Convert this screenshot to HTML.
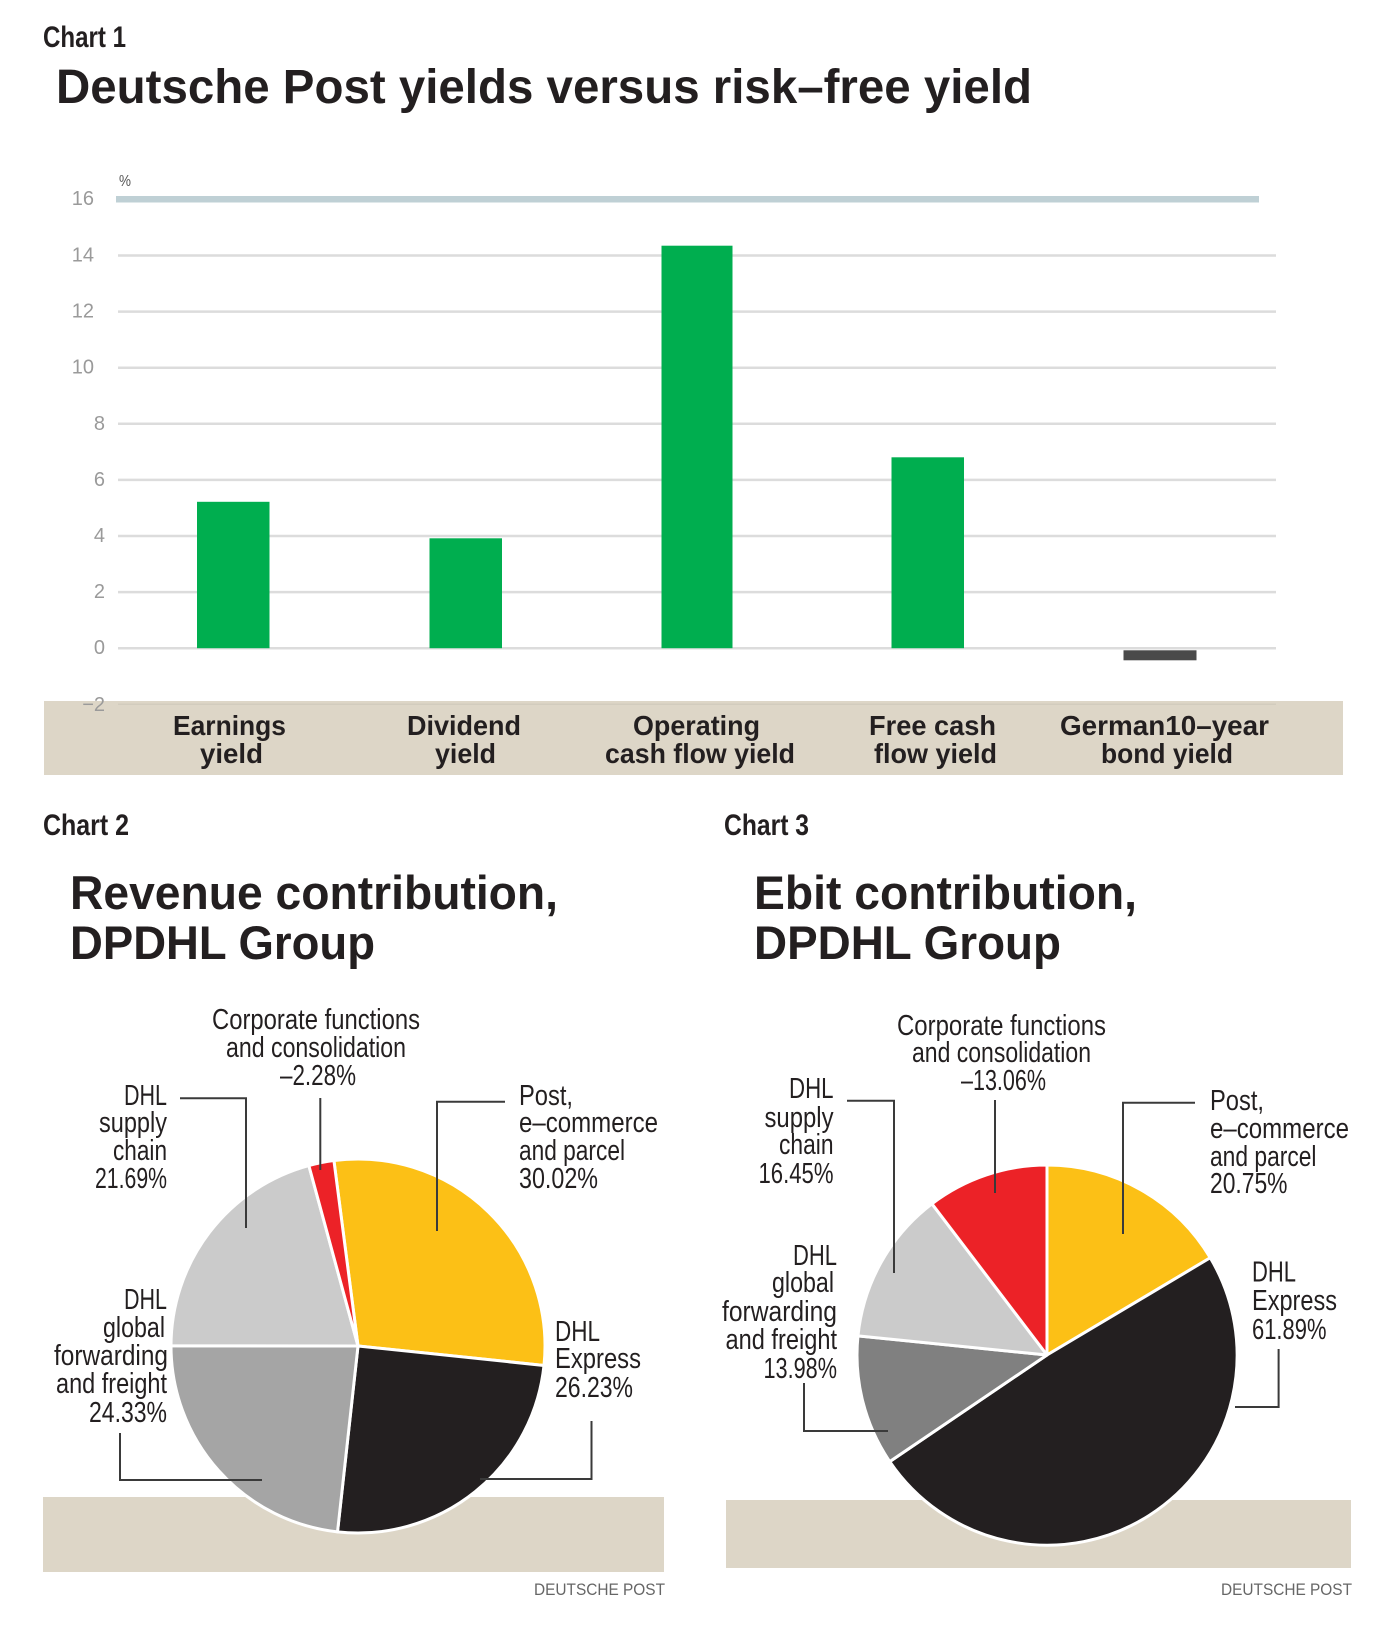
<!DOCTYPE html>
<html>
<head>
<meta charset="utf-8">
<style>
  html,body{margin:0;padding:0;background:#fff;}
  svg{display:block;}
  text{font-family:"Liberation Sans",sans-serif;}
  .t{font-weight:bold;fill:#231f20;}
  .lab{font-size:29px;fill:#231f20;}
  .cat{font-size:28px;font-weight:bold;fill:#231f20;}
  .tick{font-size:20px;fill:#9a9a9a;}
  .ld{stroke:#3a3a3a;stroke-width:2;fill:none;}
</style>
</head>
<body>
<svg width="1384" height="1632" viewBox="0 0 1384 1632" xmlns="http://www.w3.org/2000/svg">
  <rect x="0" y="0" width="1384" height="1632" fill="#ffffff"/>

  <!-- ===== CHART 1 ===== -->
  <text class="t" x="43" y="47" font-size="30" textLength="83" lengthAdjust="spacingAndGlyphs">Chart 1</text>
  <text class="t" x="56" y="103" font-size="48" textLength="976" lengthAdjust="spacingAndGlyphs">Deutsche Post yields versus risk–free yield</text>

  <!-- beige label band -->
  <rect x="44" y="701" width="1299" height="74" fill="#ddd6c7"/>

  <!-- gridlines -->
  <g stroke="#dcdcdc" stroke-width="2.5">
    <line x1="118" y1="255.5" x2="1276" y2="255.5"/>
    <line x1="118" y1="311.6" x2="1276" y2="311.6"/>
    <line x1="118" y1="367.7" x2="1276" y2="367.7"/>
    <line x1="118" y1="423.8" x2="1276" y2="423.8"/>
    <line x1="118" y1="479.9" x2="1276" y2="479.9"/>
    <line x1="118" y1="536" x2="1276" y2="536"/>
    <line x1="118" y1="592.1" x2="1276" y2="592.1"/>
    <line x1="118" y1="648.2" x2="1276" y2="648.2"/>
    <line x1="118" y1="704.3" x2="1276" y2="704.3" stroke="#d2ccbe" stroke-width="1.5"/>
  </g>
  <rect x="116" y="196" width="1143" height="6.5" fill="#bfd0d5"/>

  <!-- tick labels -->
  <text class="tick" x="94" y="205" text-anchor="end">16</text>
  <text class="tick" x="94" y="261.5" text-anchor="end">14</text>
  <text class="tick" x="94" y="317.6" text-anchor="end">12</text>
  <text class="tick" x="94" y="373.7" text-anchor="end">10</text>
  <text class="tick" x="105" y="429.8" text-anchor="end">8</text>
  <text class="tick" x="105" y="485.9" text-anchor="end">6</text>
  <text class="tick" x="105" y="542" text-anchor="end">4</text>
  <text class="tick" x="105" y="598.1" text-anchor="end">2</text>
  <text class="tick" x="105" y="654.2" text-anchor="end">0</text>
  <text class="tick" x="105" y="711" text-anchor="end">−2</text>
  <text x="119" y="186" font-size="16" fill="#555" textLength="12" lengthAdjust="spacingAndGlyphs">%</text>

  <!-- bars -->
  <rect x="197" y="501.8" width="72.5" height="146.4" fill="#00ae4f"/>
  <rect x="429.5" y="538.3" width="72.5" height="109.9" fill="#00ae4f"/>
  <rect x="661.5" y="245.7" width="71" height="402.5" fill="#00ae4f"/>
  <rect x="891.5" y="457.3" width="72.5" height="190.9" fill="#00ae4f"/>
  <rect x="1123.5" y="650.3" width="73" height="10" fill="#4a4a4a"/>

  <!-- category labels -->
  <text class="cat" x="173" y="735" textLength="113" lengthAdjust="spacingAndGlyphs">Earnings</text>
  <text class="cat" x="200" y="763" textLength="63" lengthAdjust="spacingAndGlyphs">yield</text>
  <text class="cat" x="407" y="735" textLength="114" lengthAdjust="spacingAndGlyphs">Dividend</text>
  <text class="cat" x="435" y="763" textLength="61" lengthAdjust="spacingAndGlyphs">yield</text>
  <text class="cat" x="633" y="735" textLength="127" lengthAdjust="spacingAndGlyphs">Operating</text>
  <text class="cat" x="605" y="763" textLength="190" lengthAdjust="spacingAndGlyphs">cash flow yield</text>
  <text class="cat" x="869" y="735" textLength="127" lengthAdjust="spacingAndGlyphs">Free cash</text>
  <text class="cat" x="874" y="763" textLength="123" lengthAdjust="spacingAndGlyphs">flow yield</text>
  <text class="cat" x="1060" y="735" textLength="209" lengthAdjust="spacingAndGlyphs">German10–year</text>
  <text class="cat" x="1101" y="763" textLength="132" lengthAdjust="spacingAndGlyphs">bond yield</text>

  <!-- ===== CHART 2 ===== -->
  <text class="t" x="43" y="835" font-size="30" textLength="86" lengthAdjust="spacingAndGlyphs">Chart 2</text>
  <text class="t" x="70" y="909" font-size="47" textLength="488" lengthAdjust="spacingAndGlyphs">Revenue contribution,</text>
  <text class="t" x="70" y="959" font-size="47" textLength="305" lengthAdjust="spacingAndGlyphs">DPDHL Group</text>

  <rect x="43" y="1497" width="621" height="75" fill="#ddd6c7"/>

  <g stroke="#ffffff" stroke-width="3" stroke-linejoin="round">
    <path d="M358 1346 L333.92 1160.55 A187 187 0 0 1 543.99 1365.45 Z" fill="#fcc016"/>
    <path d="M358 1346 L543.99 1365.45 A187 187 0 0 1 337.51 1531.87 Z" fill="#231f20"/>
    <path d="M358 1346 L337.51 1531.87 A187 187 0 0 1 171.0 1345.77 Z" fill="#a5a5a5"/>
    <path d="M358 1346 L171.0 1345.77 A187 187 0 0 1 308.85 1165.58 Z" fill="#cbcbcb"/>
    <path d="M358 1346 L308.85 1165.58 A187 187 0 0 1 333.92 1160.55 Z" fill="#ec2227"/>
  </g>

  <!-- leaders chart 2 -->
  <polyline class="ld" points="180,1098.3 246,1098.3 246,1228"/>
  <polyline class="ld" points="320.3,1098 320.3,1170"/>
  <polyline class="ld" points="505,1101.7 437,1101.7 437,1231"/>
  <polyline class="ld" points="120,1433 120,1480 262,1480"/>
  <polyline class="ld" points="591.5,1421 591.5,1479 480,1479"/>

  <!-- labels chart 2 -->
  <text class="lab" x="212" y="1029" textLength="208" lengthAdjust="spacingAndGlyphs">Corporate functions</text>
  <text class="lab" x="226" y="1057" textLength="180" lengthAdjust="spacingAndGlyphs">and consolidation</text>
  <text class="lab" x="280" y="1085" textLength="76" lengthAdjust="spacingAndGlyphs">–2.28%</text>

  <text class="lab" x="124" y="1105" textLength="43" lengthAdjust="spacingAndGlyphs">DHL</text>
  <text class="lab" x="99" y="1132" textLength="68" lengthAdjust="spacingAndGlyphs">supply</text>
  <text class="lab" x="113" y="1160" textLength="54" lengthAdjust="spacingAndGlyphs">chain</text>
  <text class="lab" x="95" y="1188" textLength="72" lengthAdjust="spacingAndGlyphs">21.69%</text>

  <text class="lab" x="519" y="1105" textLength="54" lengthAdjust="spacingAndGlyphs">Post,</text>
  <text class="lab" x="519" y="1132" textLength="139" lengthAdjust="spacingAndGlyphs">e–commerce</text>
  <text class="lab" x="519" y="1160" textLength="106" lengthAdjust="spacingAndGlyphs">and parcel</text>
  <text class="lab" x="519" y="1188" textLength="79" lengthAdjust="spacingAndGlyphs">30.02%</text>

  <text class="lab" x="124" y="1309" textLength="43" lengthAdjust="spacingAndGlyphs">DHL</text>
  <text class="lab" x="103" y="1337" textLength="62" lengthAdjust="spacingAndGlyphs">global</text>
  <text class="lab" x="54" y="1365" textLength="114" lengthAdjust="spacingAndGlyphs">forwarding</text>
  <text class="lab" x="56" y="1393" textLength="111" lengthAdjust="spacingAndGlyphs">and freight</text>
  <text class="lab" x="89" y="1422" textLength="78" lengthAdjust="spacingAndGlyphs">24.33%</text>

  <text class="lab" x="555" y="1341" textLength="45" lengthAdjust="spacingAndGlyphs">DHL</text>
  <text class="lab" x="555" y="1368" textLength="86" lengthAdjust="spacingAndGlyphs">Express</text>
  <text class="lab" x="555" y="1397" textLength="78" lengthAdjust="spacingAndGlyphs">26.23%</text>

  <text x="534" y="1595" font-size="16.5" fill="#666" textLength="131" lengthAdjust="spacingAndGlyphs">DEUTSCHE POST</text>

  <!-- ===== CHART 3 ===== -->
  <text class="t" x="724" y="835" font-size="30" textLength="85" lengthAdjust="spacingAndGlyphs">Chart 3</text>
  <text class="t" x="754" y="909" font-size="47" textLength="383" lengthAdjust="spacingAndGlyphs">Ebit contribution,</text>
  <text class="t" x="754" y="959" font-size="47" textLength="307" lengthAdjust="spacingAndGlyphs">DPDHL Group</text>

  <rect x="726" y="1500" width="625" height="68" fill="#ddd6c7"/>

  <g stroke="#ffffff" stroke-width="3" stroke-linejoin="round">
    <path d="M1047 1355 L1047 1165 A190 190 0 0 1 1210.25 1257.77 Z" fill="#fcc016"/>
    <path d="M1047 1355 L1210.25 1257.77 A190 190 0 0 1 889.72 1461.6 Z" fill="#231f20"/>
    <path d="M1047 1355 L889.72 1461.6 A190 190 0 0 1 857.96 1335.9 Z" fill="#808080"/>
    <path d="M1047 1355 L857.96 1335.9 A190 190 0 0 1 931.94 1203.8 Z" fill="#cbcbcb"/>
    <path d="M1047 1355 L931.94 1203.8 A190 190 0 0 1 1047 1165 Z" fill="#ec2227"/>
  </g>

  <!-- leaders chart 3 -->
  <polyline class="ld" points="847,1100.7 894,1100.7 894,1273"/>
  <polyline class="ld" points="995,1100 995,1193"/>
  <polyline class="ld" points="1195,1102.7 1123,1102.7 1123,1234"/>
  <polyline class="ld" points="804,1383 804,1431 888,1431"/>
  <polyline class="ld" points="1278.6,1349 1278.6,1407 1235,1407"/>

  <!-- labels chart 3 -->
  <text class="lab" x="897" y="1035" textLength="209" lengthAdjust="spacingAndGlyphs">Corporate functions</text>
  <text class="lab" x="912" y="1062" textLength="179" lengthAdjust="spacingAndGlyphs">and consolidation</text>
  <text class="lab" x="961" y="1090" textLength="85" lengthAdjust="spacingAndGlyphs">–13.06%</text>

  <text class="lab" x="789" y="1098" textLength="44.5" lengthAdjust="spacingAndGlyphs">DHL</text>
  <text class="lab" x="764.5" y="1127" textLength="69" lengthAdjust="spacingAndGlyphs">supply</text>
  <text class="lab" x="779" y="1154" textLength="54.5" lengthAdjust="spacingAndGlyphs">chain</text>
  <text class="lab" x="758.5" y="1183" textLength="75" lengthAdjust="spacingAndGlyphs">16.45%</text>

  <text class="lab" x="1210" y="1110" textLength="54" lengthAdjust="spacingAndGlyphs">Post,</text>
  <text class="lab" x="1210" y="1138" textLength="139" lengthAdjust="spacingAndGlyphs">e–commerce</text>
  <text class="lab" x="1210" y="1166" textLength="106.5" lengthAdjust="spacingAndGlyphs">and parcel</text>
  <text class="lab" x="1210" y="1193" textLength="77.5" lengthAdjust="spacingAndGlyphs">20.75%</text>

  <text class="lab" x="793" y="1265" textLength="44" lengthAdjust="spacingAndGlyphs">DHL</text>
  <text class="lab" x="772" y="1292" textLength="62" lengthAdjust="spacingAndGlyphs">global</text>
  <text class="lab" x="722" y="1321" textLength="115" lengthAdjust="spacingAndGlyphs">forwarding</text>
  <text class="lab" x="725.5" y="1349" textLength="111.5" lengthAdjust="spacingAndGlyphs">and freight</text>
  <text class="lab" x="763.5" y="1378" textLength="73.5" lengthAdjust="spacingAndGlyphs">13.98%</text>

  <text class="lab" x="1252" y="1281.5" textLength="44" lengthAdjust="spacingAndGlyphs">DHL</text>
  <text class="lab" x="1252" y="1310" textLength="85" lengthAdjust="spacingAndGlyphs">Express</text>
  <text class="lab" x="1252" y="1339" textLength="74.5" lengthAdjust="spacingAndGlyphs">61.89%</text>

  <text x="1221" y="1595" font-size="16.5" fill="#666" textLength="131" lengthAdjust="spacingAndGlyphs">DEUTSCHE POST</text>
</svg>
</body>
</html>
